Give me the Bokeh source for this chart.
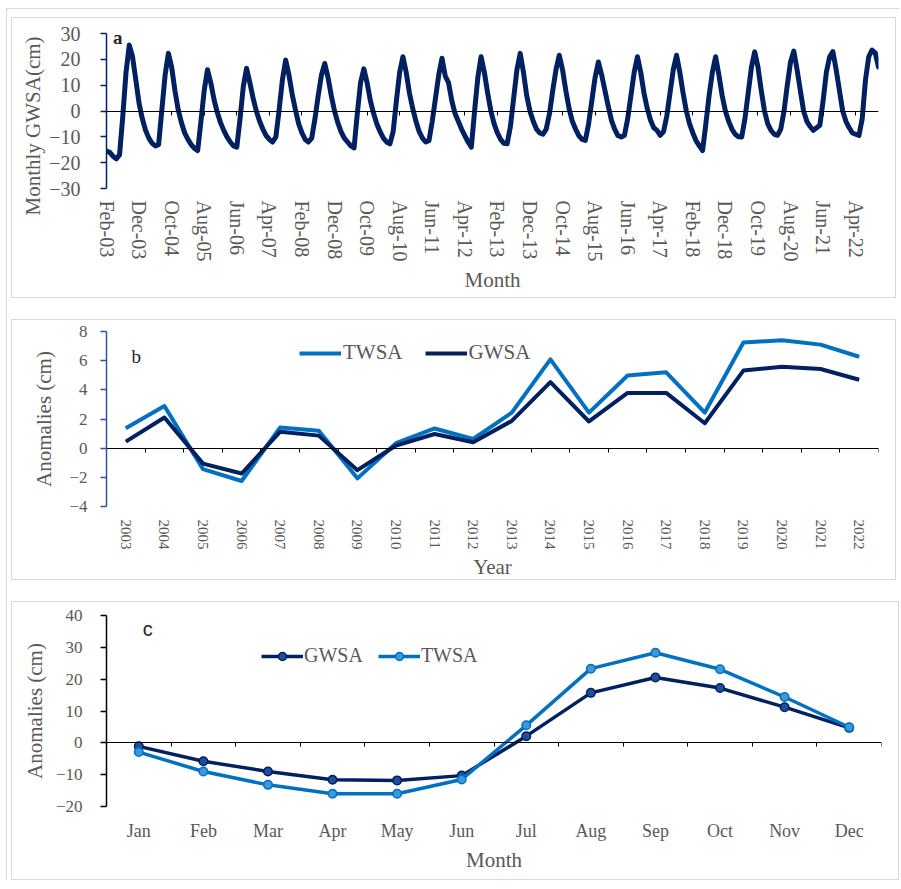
import math

from bokeh.embed import file_html
from bokeh.layouts import column, row
from bokeh.models import (FixedTicker, Label, Legend, LegendItem, LinearAxis,
                          Range1d, Spacer, Title)
from bokeh.plotting import figure
from bokeh.resources import INLINE

NAVY = "#002060"
BLUE = "#0070C0"
TEXT = "#595959"
SERIF = "Liberation Serif"

# ---------------------------------------------------------------- data
month_abbr = ["Jan", "Feb", "Mar", "Apr", "May", "Jun",
              "Jul", "Aug", "Sep", "Oct", "Nov", "Dec"]

# (a) monthly GWSA in cm, Feb 2003 .. Nov 2022
first_year, first_month = 2003, 2
gwsa_monthly = [
    # 2003 (Feb-Dec)
    -15.5, -16.0, -17.5, -18.5, -17.0, -2.0, 15.0, 25.5, 21.0, 12.0, 3.0,
    # 2004
    -3.0, -7.5, -10.5, -12.5, -13.5, -13.0, 0.5, 14.0, 22.3, 17.0, 8.0, 0.5,
    # 2005
    -4.5, -8.5, -11.0, -13.0, -14.5, -15.3, -4.0, 8.0, 16.0, 11.0, 4.5, -0.5,
    # 2006
    -4.5, -7.5, -10.0, -12.0, -13.5, -14.0, -3.0, 9.5, 16.5, 11.0, 5.0, 0.0,
    # 2007
    -4.0, -7.0, -9.5, -11.0, -12.0, -10.0, 0.5, 12.0, 19.7, 14.0, 6.5, 0.5,
    # 2008
    -5.0, -8.5, -11.0, -12.0, -10.5, -3.0, 6.0, 14.0, 18.4, 13.0, 6.0, 0.0,
    # 2009
    -4.5, -8.0, -10.5, -12.0, -13.5, -14.3, -1.0, 11.0, 16.3, 11.0, 4.0, -1.0,
    # 2010
    -5.0, -8.0, -10.5, -12.0, -12.7, -8.0, 4.0, 15.0, 21.0, 15.0, 7.0, 1.0,
    # 2011
    -4.0, -8.0, -10.5, -12.0, -11.5, -4.0, 5.0, 14.0, 20.4, 13.5, 11.0, 4.0,
    # 2012
    -1.0, -4.0, -7.0, -9.5, -12.0, -14.0, 0.0, 13.0, 21.0, 15.0, 7.0, 0.0,
    # 2013
    -5.0, -8.5, -11.0, -12.5, -12.7, -6.0, 5.0, 16.0, 22.3, 15.0, 6.0, 0.0,
    # 2014
    -4.0, -7.0, -8.5, -9.0, -7.0, -1.0, 8.0, 16.0, 21.6, 16.0, 8.0, 1.0,
    # 2015
    -4.0, -7.0, -9.5, -11.0, -11.4, -5.0, 4.0, 13.0, 19.0, 14.0, 8.0, 2.0,
    # 2016
    -3.5, -7.0, -9.5, -10.1, -9.5, -3.0, 6.0, 15.0, 21.0, 15.0, 7.0, 1.0,
    # 2017
    -3.5, -6.5, -7.5, -9.4, -8.0, -2.0, 7.0, 16.0, 21.6, 15.0, 7.0, 0.0,
    # 2018
    -5.0, -8.5, -11.5, -13.5, -15.3, -5.0, 6.0, 15.0, 21.0, 14.0, 6.0, 0.0,
    # 2019
    -4.0, -7.0, -9.0, -10.0, -10.1, -3.0, 7.0, 17.0, 22.9, 17.0, 8.0, 0.0,
    # 2020
    -5.0, -7.5, -9.0, -9.4, -7.0, 0.0, 10.0, 19.0, 23.2, 16.0, 8.0, 0.0,
    # 2021
    -4.0, -6.0, -7.5, -6.5, -5.5, 4.0, 15.0, 21.0, 23.0, 16.0, 8.0, 0.0,
    # 2022 (Jan-Nov)
    -4.0, -6.5, -8.5, -9.0, -9.5, -3.0, 12.0, 21.0, 23.6, 22.5, 17.0,
]
month_label_step = 10
gwsa_ticks = [-30, -20, -10, 0, 10, 20, 30]

# (b) annual anomalies in cm
years = list(range(2003, 2023))
twsa_annual = [1.37, 2.89, -1.44, -2.25, 1.42, 1.20, -2.07, 0.34, 1.35, 0.63,
               2.44, 6.09, 2.44, 4.98, 5.20, 2.44, 7.24, 7.40, 7.10, 6.27]
gwsa_annual = [0.45, 2.10, -1.06, -1.74, 1.13, 0.86, -1.51, 0.18, 0.97, 0.41,
               1.87, 4.53, 1.83, 3.79, 3.79, 1.71, 5.32, 5.59, 5.43, 4.69]
annual_ticks = [-4, -2, 0, 2, 4, 6, 8]

# (c) mean seasonal cycle in cm
season_months = month_abbr
gwsa_seasonal = [-1.1, -5.8, -9.0, -11.6, -11.8, -10.3,
                 2.1, 15.7, 20.5, 17.2, 11.2, 4.7]
twsa_seasonal = [-2.9, -9.0, -13.2, -16.0, -16.0, -11.5,
                 5.5, 23.3, 28.3, 23.1, 14.4, 4.9]
seasonal_ticks = [-20, -10, 0, 10, 20, 30, 40]

# ---------------------------------------------------------------- helpers
month_idx = list(range(len(gwsa_monthly)))
month_labels = []
for k in month_idx:
    m = (first_month - 1 + k) % 12
    yr = first_year + (first_month - 1 + k) // 12
    month_labels.append(f"{month_abbr[m]}-{yr % 100:02d}")

GRAY_LINE = "1px solid #d9d9d9"
BOX = {"border": GRAY_LINE}


def base_figure(w, h, xr, yr, left, right, top, bottom):
    p = figure(width=w, height=h, x_range=xr, y_range=yr,
               output_backend="svg", toolbar_location=None,
               min_border_left=left, min_border_right=right,
               min_border_top=top, min_border_bottom=bottom)
    p.grid.visible = False
    p.outline_line_color = None
    p.background_fill_color = "white"
    p.border_fill_color = "white"
    p.styles = BOX
    return p


def style_y(p, ticks, label, axis_color, tick_size, label_standoff,
            title_standoff):
    ax = p.yaxis[0]
    ax.ticker = FixedTicker(ticks=ticks)
    ax.axis_label = label
    ax.axis_line_color = axis_color
    ax.axis_line_width = 1.5
    ax.major_tick_line_color = axis_color
    ax.major_tick_line_width = 1.5
    ax.major_tick_out = 6
    ax.major_tick_in = 0
    ax.minor_tick_line_color = None
    ax.major_label_text_font = SERIF
    ax.major_label_text_font_size = tick_size
    ax.major_label_text_color = TEXT
    ax.major_label_standoff = label_standoff
    ax.axis_label_text_font = SERIF
    ax.axis_label_text_font_size = "21px"
    ax.axis_label_text_font_style = "normal"
    ax.axis_label_text_color = TEXT
    ax.axis_label_standoff = title_standoff


def style_x_labels(p, ticks, overrides, label, tick_size, orientation,
                   label_standoff, title_standoff):
    ax = p.xaxis[0]
    ax.ticker = FixedTicker(ticks=ticks)
    ax.major_label_overrides = overrides
    ax.axis_label = label
    ax.axis_line_color = None
    ax.major_tick_line_color = None
    ax.major_tick_out = 0
    ax.major_tick_in = 0
    ax.minor_tick_line_color = None
    ax.major_label_orientation = orientation
    ax.major_label_text_font = SERIF
    ax.major_label_text_font_size = tick_size
    ax.major_label_text_color = TEXT
    ax.major_label_standoff = label_standoff
    ax.axis_label_text_font = SERIF
    ax.axis_label_text_font_size = "21px"
    ax.axis_label_text_font_style = "normal"
    ax.axis_label_text_color = TEXT
    ax.axis_label_standoff = title_standoff


def zero_axis(p, ticks):
    ax = LinearAxis(fixed_location=0, ticker=FixedTicker(ticks=ticks),
                    axis_line_color="black", axis_line_width=1,
                    major_tick_line_color="black", major_tick_line_width=1,
                    major_tick_out=4, major_tick_in=0,
                    minor_tick_line_color=None,
                    major_label_text_color=None)
    p.add_layout(ax, "below")


# ---------------------------------------------------------------- (a)
n = len(gwsa_monthly)
pa = base_figure(885, 281, Range1d(0, n - 1), Range1d(-30, 30),
                 89, 19, 15, 111)
label_ticks = list(range(0, n, month_label_step))
style_y(pa, gwsa_ticks, None, NAVY, "20px", 20, 3)
style_x_labels(pa, label_ticks, {t: month_labels[t] for t in label_ticks},
               "Month", "20px", -math.pi / 2, 12, 3)
zero_axis(pa, label_ticks)
pa.line(month_idx, gwsa_monthly, line_color=NAVY, line_width=5,
        line_join="round", line_cap="round")
pa.add_layout(Label(x=2, y=28.4, text="a", text_font=SERIF,
                    text_font_style="bold", text_font_size="19px",
                    text_color="#262626", text_align="left",
                    text_baseline="alphabetic"))
# vertical title of panel (a), starting a little below the frame bottom
pa.add_layout(Title(text="Monthly GWSA(cm)", align="left", offset=-27,
                    standoff=3, text_font=SERIF, text_font_size="21px",
                    text_font_style="normal", text_color=TEXT), "left")

# ---------------------------------------------------------------- (b)
pb = base_figure(885, 261, Range1d(years[0] - 0.5, years[-1] + 0.5),
                 Range1d(-4, 8), 94, 7, 11, 72)
style_y(pb, annual_ticks, "Anomalies (cm)", "#2F5597", "17px", 13, 10)
style_x_labels(pb, years, {y: str(y) for y in years}, "Year", "15px",
               -math.pi / 2, 13, 2)
zero_axis(pb, [y - 0.5 for y in years] + [years[-1] + 0.5])
r_tw_b = pb.line(years, twsa_annual, line_color=BLUE, line_width=4,
                 line_join="round")
r_gw_b = pb.line(years, gwsa_annual, line_color=NAVY, line_width=4,
                 line_join="round")
leg_b = Legend(items=[LegendItem(label="TWSA", renderers=[r_tw_b]),
                      LegendItem(label="GWSA", renderers=[r_gw_b])],
               orientation="horizontal", location=(193, 141),
               border_line_color=None, background_fill_alpha=0,
               padding=0, margin=0, spacing=22, glyph_width=42,
               glyph_height=20, label_height=20, label_standoff=2,
               label_text_font=SERIF, label_text_font_size="21px",
               label_text_color=TEXT)
pb.add_layout(leg_b)
pb.add_layout(Label(x=years[0] + 0.15, y=6.3, text="b", text_font=SERIF,
                    text_font_size="19px", text_color="#262626",
                    text_align="left", text_baseline="alphabetic"))

# ---------------------------------------------------------------- (c)
mpos = list(range(1, len(season_months) + 1))
pc = base_figure(888, 279, Range1d(0.5, len(season_months) + 0.5),
                 Range1d(-20, 40), 88, 11, 13, 75)
style_y(pc, seasonal_ticks, "Anomalies (cm)", "black", "17px", 18, 6)
style_x_labels(pc, mpos, {i: m for i, m in zip(mpos, season_months)},
               "Month", "18px", "horizontal", 14, 4)
zero_axis(pc, [i - 0.5 for i in mpos] + [mpos[-1] + 0.5])
r_gw_c = pc.line(mpos, gwsa_seasonal, line_color=NAVY, line_width=3.5,
                 line_join="round")
s_gw_c = pc.scatter(mpos, gwsa_seasonal, size=8.5, fill_color="#1F4E9A",
                    line_color=NAVY, line_width=1.5)
r_tw_c = pc.line(mpos, twsa_seasonal, line_color=BLUE, line_width=3.5,
                 line_join="round")
s_tw_c = pc.scatter(mpos, twsa_seasonal, size=8.5, fill_color="#3A9AD9",
                    line_color=BLUE, line_width=1.5)
leg_c = Legend(items=[LegendItem(label="GWSA", renderers=[r_gw_c, s_gw_c]),
                      LegendItem(label="TWSA", renderers=[r_tw_c, s_tw_c])],
               orientation="horizontal", location=(155, 139),
               border_line_color=None, background_fill_alpha=0,
               padding=0, margin=0, spacing=15, glyph_width=42,
               glyph_height=20, label_height=20, label_standoff=1,
               label_text_font=SERIF, label_text_font_size="20px",
               label_text_color=TEXT)
pc.add_layout(leg_c)
pc.add_layout(Label(x=1.06, y=35.8, text="c", text_font="Liberation Sans",
                    text_font_size="20px", text_color="#262626",
                    text_align="left", text_baseline="alphabetic"))

# ---------------------------------------------------------------- page
panels = column(Spacer(height=8), pa, Spacer(height=21), pb,
                Spacer(height=21), pc)
framed = row(Spacer(width=4), panels,
             styles={"border-left": GRAY_LINE, "border-top": GRAY_LINE})
layout = column(Spacer(height=8), row(Spacer(width=6), framed))

open("out.html", "w").write(file_html(layout, INLINE))
